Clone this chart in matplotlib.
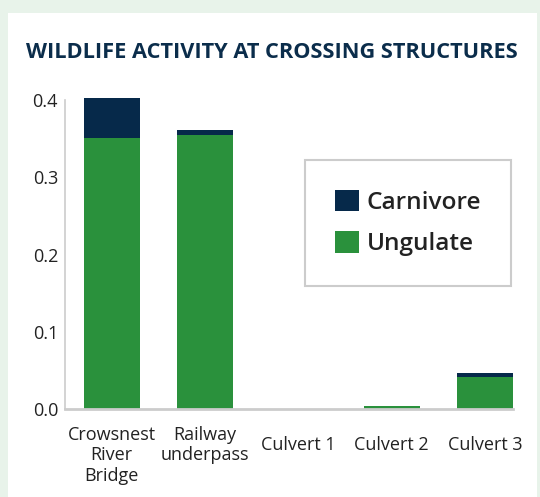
import matplotlib
matplotlib.use('Agg')
import matplotlib.pyplot as plt
import matplotlib.transforms as mtransforms
from matplotlib.patches import Rectangle

# data
structures = ['Crowsnest\nRiver\nBridge', 'Railway\nunderpass', 'Culvert 1', 'Culvert 2', 'Culvert 3']
ungulate = [0.351, 0.355, 0.0, 0.004, 0.041]
carnivore = [0.052, 0.006, 0.0, 0.0, 0.006]
y_ticks = [0.0, 0.1, 0.2, 0.3, 0.4]

navy = '#06294a'
green = '#2a913c'

plt.rcParams['font.family'] = ['Open Sans', 'DejaVu Sans']

fig = plt.figure(figsize=(5.4, 4.97), dpi=100, facecolor='#e8f3ea')
# white card behind the chart
fig.patches.append(Rectangle((8 / 540, 0), 529 / 540, 484 / 497,
                             transform=fig.transFigure, facecolor='white',
                             edgecolor='none', zorder=-10))

ax = fig.add_axes([65 / 540, 88 / 497, 448 / 540, 309 / 497])
ax.set_facecolor('none')

x = range(len(structures))
ax.bar(x, ungulate, width=0.6, color=green, label='Ungulate', clip_on=False, zorder=2)
ax.bar(x, carnivore, width=0.6, bottom=ungulate, color=navy, label='Carnivore',
       clip_on=False, zorder=2)

ax.set_xlim(-0.5, 4.3)
ax.set_ylim(0, 0.4)
ax.set_yticks(y_ticks)
ax.set_yticklabels(['%.1f' % v for v in y_ticks])
ax.set_xticks(list(x))
ax.set_xticklabels(structures, linespacing=1.18, va='center')

ax.tick_params(axis='both', length=0, labelsize=13, labelcolor='#222222')
ax.tick_params(axis='y', pad=5)
ax.tick_params(axis='x', pad=26)

# the three-line label is top-aligned with the two-line one
lbl = ax.get_xticklabels()[0]
lbl.set_transform(lbl.get_transform() +
                  mtransforms.ScaledTranslation(0, -0.10, fig.dpi_scale_trans))

for side in ['top', 'right']:
    ax.spines[side].set_visible(False)
ax.spines['left'].set_color('#cccccc')
ax.spines['left'].set_linewidth(1.2)
ax.spines['bottom'].set_color('#cccccc')
ax.spines['bottom'].set_linewidth(2)

handles, labels = ax.get_legend_handles_labels()
leg = ax.legend(handles[::-1], labels[::-1], loc='center',
                bbox_to_anchor=(408 / 540, (497 - 223) / 497),
                bbox_transform=fig.transFigure,
                prop={'weight': 'semibold', 'size': 17.6},
                handlelength=0.98, handleheight=0.98, handletextpad=0.34,
                labelspacing=0.68, borderpad=1.2, fancybox=False, framealpha=1)
leg.get_frame().set_edgecolor('#cccccc')
leg.get_frame().set_linewidth(1.5)
for t in leg.get_texts():
    t.set_color('#222222')

fig.text(272 / 540, (497 - 52) / 497, 'WILDLIFE ACTIVITY AT CROSSING STRUCTURES',
         ha='center', va='center', fontsize=15.7, fontweight='bold', color='#0b2d4b')

plt.savefig('out.png', dpi=100, facecolor=fig.get_facecolor())
